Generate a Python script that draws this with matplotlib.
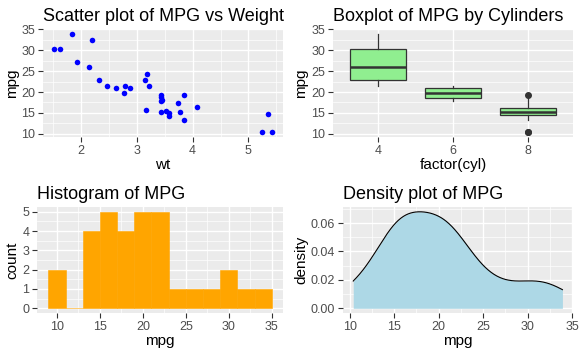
import numpy as np
import matplotlib
matplotlib.use("Agg")
import matplotlib.pyplot as plt
from matplotlib.ticker import MultipleLocator

plt.rcParams['font.family'] = ['Liberation Sans', 'DejaVu Sans']

# mtcars columns
mpg = [21.0, 21.0, 22.8, 21.4, 18.7, 18.1, 14.3, 24.4, 22.8, 19.2, 17.8, 16.4,
       17.3, 15.2, 10.4, 10.4, 14.7, 32.4, 30.4, 33.9, 21.5, 15.5, 15.2, 13.3,
       19.2, 27.3, 26.0, 30.4, 15.8, 19.7, 15.0, 21.4]
wt = [2.620, 2.875, 2.320, 3.215, 3.440, 3.460, 3.570, 3.190, 3.150, 3.440,
      3.440, 4.070, 3.730, 3.780, 5.250, 5.424, 5.345, 2.200, 1.615, 1.835,
      2.465, 3.520, 3.435, 3.840, 3.845, 1.935, 2.140, 1.513, 3.170, 2.770,
      3.570, 2.780]
cyl = [6, 6, 4, 6, 8, 6, 8, 4, 4, 6, 6, 8, 8, 8, 8, 8, 8, 4, 4, 4, 4, 8, 8, 8,
       8, 4, 4, 4, 8, 6, 8, 4]
cyl_levels = [4, 6, 8]
hist_edges = np.arange(9, 36, 2)

mpg = np.array(mpg)
wt = np.array(wt)
cyl = np.array(cyl)

BG = '#EBEBEB'
TICKC = '#333333'
LABC = '#4D4D4D'


def gg(ax, xmaj=None, xmin=None, ymaj=None, ymin=None):
    ax.set_facecolor(BG)
    for s in ax.spines.values():
        s.set_visible(False)
    if xmaj is not None:
        ax.xaxis.set_major_locator(MultipleLocator(xmaj))
    if xmin is not None:
        ax.xaxis.set_minor_locator(MultipleLocator(xmin))
    if ymaj is not None:
        ax.yaxis.set_major_locator(MultipleLocator(ymaj))
    if ymin is not None:
        ax.yaxis.set_minor_locator(MultipleLocator(ymin))
    ax.grid(which='major', color='white', lw=1.0)
    ax.grid(which='minor', color='white', lw=0.5)
    ax.set_axisbelow(True)
    ax.tick_params(which='major', length=3.5, width=0.8, color=TICKC,
                   labelcolor=LABC, labelsize=9, pad=2)
    ax.tick_params(which='minor', length=0)


def title(ax, t):
    ax.set_title(t, loc='left', fontsize=13, pad=6)


fig = plt.figure(figsize=(5.81, 3.55), dpi=100)

# scatter
ax1 = fig.add_axes([0.074, 0.614, 0.413, 0.304])
ax1.scatter(wt, mpg, s=16, color='blue', linewidths=0, zorder=3)
rng = wt.max() - wt.min()
ax1.set_xlim(wt.min() - 0.05 * rng, wt.max() + 0.05 * rng)
r2 = mpg.max() - mpg.min()
ax1.set_ylim(mpg.min() - 0.05 * r2, mpg.max() + 0.05 * r2)
gg(ax1, 1, 0.5, 5, 2.5)
ax1.set_xlabel('wt', fontsize=11, labelpad=1)
ax1.set_ylabel('mpg', fontsize=11, labelpad=2)
title(ax1, 'Scatter plot of MPG vs Weight')

# boxplot
ax2 = fig.add_axes([0.573, 0.614, 0.413, 0.304])
groups = [mpg[cyl == c] for c in cyl_levels]
ax2.boxplot(groups, positions=[1, 2, 3], widths=0.75, patch_artist=True,
            showcaps=False, whis=1.5,
            boxprops=dict(facecolor='#90EE90', edgecolor=TICKC, lw=0.9),
            whiskerprops=dict(color=TICKC, lw=0.9),
            medianprops=dict(color=TICKC, lw=1.8),
            flierprops=dict(marker='o', markerfacecolor=TICKC,
                            markeredgecolor=TICKC, markersize=4),
            zorder=3)
ax2.set_xlim(0.4, 3.6)
ax2.set_ylim(mpg.min() - 0.05 * r2, mpg.max() + 0.05 * r2)
gg(ax2, None, None, 5, 2.5)
ax2.set_xticks([1, 2, 3])
ax2.set_xticklabels([str(c) for c in cyl_levels])
ax2.set_xlabel('factor(cyl)', fontsize=11, labelpad=1)
ax2.set_ylabel('mpg', fontsize=11, labelpad=2)
title(ax2, 'Boxplot of MPG by Cylinders')

# histogram (right-closed bins, like ggplot)
ax3 = fig.add_axes([0.064, 0.118, 0.423, 0.299])
idx = np.digitize(mpg, hist_edges, right=True)
counts = np.array([(idx == i).sum() for i in range(1, len(hist_edges))])
ax3.bar(hist_edges[:-1], counts, width=np.diff(hist_edges), align='edge',
        color='orange', edgecolor='orange', lw=0.4, zorder=3)
hr = hist_edges[-1] - hist_edges[0]
ax3.set_xlim(hist_edges[0] - 0.05 * hr, hist_edges[-1] + 0.05 * hr)
ax3.set_ylim(-0.05 * counts.max(), counts.max() * 1.05)
gg(ax3, 5, 2.5, 1, 0.5)
ax3.set_xlabel('mpg', fontsize=11, labelpad=1)
ax3.set_ylabel('count', fontsize=11, labelpad=2)
title(ax3, 'Histogram of MPG')

# density
ax4 = fig.add_axes([0.590, 0.118, 0.396, 0.299])
n = len(mpg)
q75, q25 = np.percentile(mpg, [75, 25])
bw = 0.9 * min(mpg.std(ddof=1), (q75 - q25) / 1.34) * n ** -0.2
xs = np.linspace(mpg.min(), mpg.max(), 512)
dens = np.exp(-0.5 * ((xs[:, None] - mpg[None, :]) / bw) ** 2).sum(1) / (n * bw * np.sqrt(2 * np.pi))
ax4.fill_between(xs, 0, dens, color='#ADD8E6', lw=0, zorder=3)
ax4.plot(xs, dens, color='black', lw=0.8, zorder=4)
ax4.set_xlim(mpg.min() - 0.05 * r2, mpg.max() + 0.05 * r2)
ax4.set_ylim(-0.05 * dens.max(), dens.max() * 1.05)
gg(ax4, 5, 2.5, 0.02, 0.01)
ax4.yaxis.set_major_formatter(matplotlib.ticker.FormatStrFormatter('%.2f'))
ax4.set_xlabel('mpg', fontsize=11, labelpad=1)
ax4.set_ylabel('density', fontsize=11, labelpad=2)
title(ax4, 'Density plot of MPG')

fig.savefig('out.png', dpi=100)
